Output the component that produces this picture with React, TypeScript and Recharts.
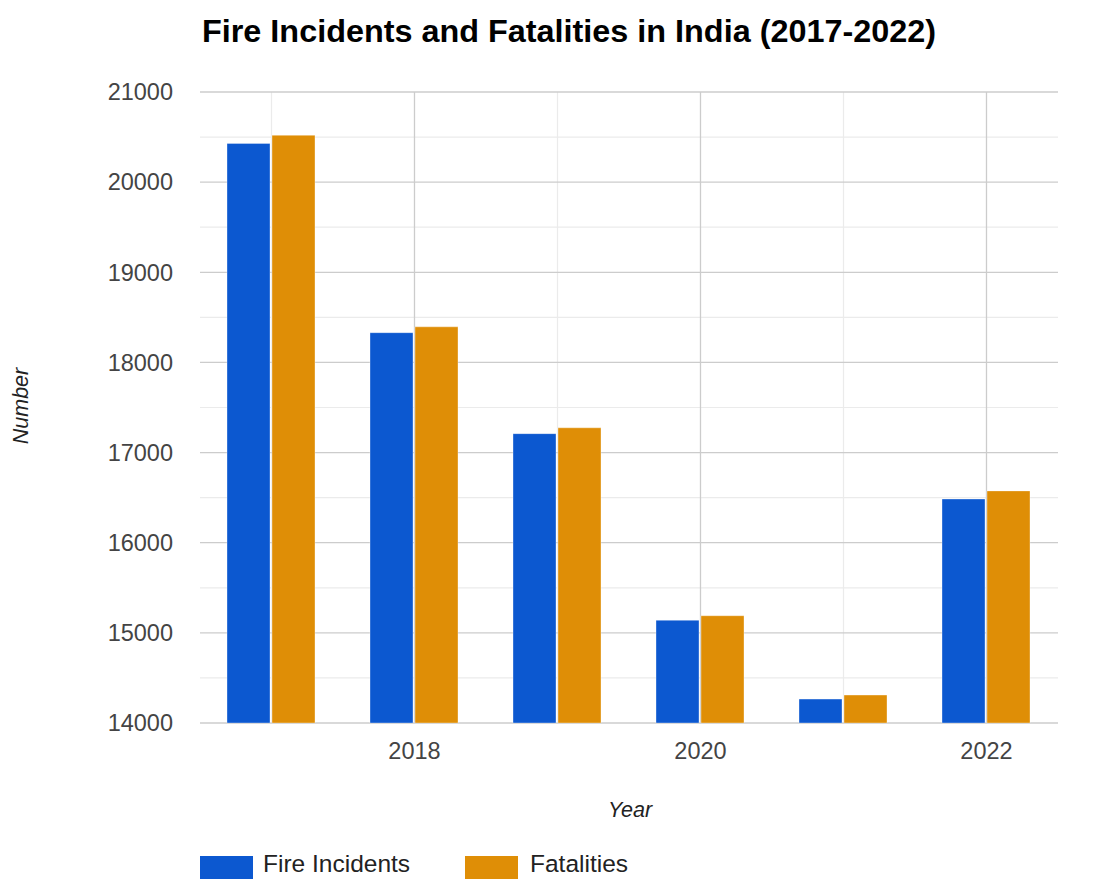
import React from 'react';
import { BarChart, Bar, XAxis, YAxis, CartesianGrid } from 'recharts';

const years = [2017, 2018, 2019, 2020, 2021, 2022];
const fireIncidents = [20430, 18330, 17210, 15140, 14265, 16485];
const fatalities = [20520, 18395, 17275, 15190, 14310, 16575];
const seriesNames = ['Fire Incidents', 'Fatalities'];
const seriesColors = ['#0c58d0', '#df8e06'];
const yTicks = [14000, 15000, 16000, 17000, 18000, 19000, 20000, 21000];
const yMinorTicks = [14500, 15500, 16500, 17500, 18500, 19500, 20500];
const xTicks = [2018, 2020, 2022];
const xMinorTicks = [2017, 2019, 2021];

const data = years.map((y, i) => ({ year: y, fire: fireIncidents[i], fatal: fatalities[i] }));

const FONT = 'Arial, "Liberation Sans", sans-serif';

export default function App() {
  return (
    <div style={{ position: 'absolute', left: 0, top: 0, width: 1116, height: 879, background: '#fff', overflow: 'hidden' }}>
      <BarChart
        width={1116}
        height={879}
        data={data}
        margin={{ top: 92, right: 58, left: 0, bottom: 96 }}
        barGap={2}
      >
        <CartesianGrid
          stroke="#ebebeb"
          strokeWidth={1.2}
          horizontalValues={yMinorTicks}
          verticalValues={xMinorTicks}
        />
        <CartesianGrid
          stroke="#cccccc"
          strokeWidth={1.3}
          horizontalValues={yTicks}
          verticalValues={xTicks}
        />
        <XAxis
          dataKey="year"
          type="number"
          domain={[2016.5, 2022.5]}
          allowDataOverflow
          ticks={xTicks}
          tickLine={false}
          axisLine={false}
          tickSize={0}
          tickMargin={19}
          height={60}
          tick={{ fontSize: 23.5, fill: '#444', fontFamily: FONT }}
        />
        <YAxis
          type="number"
          domain={[14000, 21000]}
          allowDataOverflow
          ticks={yTicks}
          tickLine={false}
          axisLine={false}
          tickSize={0}
          tickMargin={27}
          width={200}
          tick={{ fontSize: 23.5, fill: '#444', fontFamily: FONT }}
        />
        <Bar dataKey="fire" name={seriesNames[0]} fill={seriesColors[0]} barSize={43} isAnimationActive={false} stroke="#ffffff" strokeOpacity={0.35} strokeWidth={1} />
        <Bar dataKey="fatal" name={seriesNames[1]} fill={seriesColors[1]} barSize={43} isAnimationActive={false} stroke="#ffffff" strokeOpacity={0.35} strokeWidth={1} />
      </BarChart>
      <svg width={1116} height={879} style={{ position: 'absolute', left: 0, top: 0, pointerEvents: 'none' }}>
        <text x={202} y={42} fontFamily={FONT} fontWeight="bold" fontSize={32} fill="#000" textLength={734} lengthAdjust="spacingAndGlyphs">
          Fire Incidents and Fatalities in India (2017-2022)
        </text>
        <text x={630} y={817} fontFamily={FONT} fontStyle="italic" fontSize={21.5} fill="#222" textAnchor="middle">
          Year
        </text>
        <text x={28} y={406} fontFamily={FONT} fontStyle="italic" fontSize={21.5} fill="#222" textAnchor="middle" transform="rotate(-90 28 406)">
          Number
        </text>
        <rect x={200} y={856} width={53} height={30} fill={seriesColors[0]} />
        <text x={263} y={872} fontFamily={FONT} fontSize={24.5} fill="#222">{seriesNames[0]}</text>
        <rect x={465} y={856} width={53} height={30} fill={seriesColors[1]} />
        <text x={530} y={872} fontFamily={FONT} fontSize={24.5} fill="#222">{seriesNames[1]}</text>
      </svg>
    </div>
  );
}
